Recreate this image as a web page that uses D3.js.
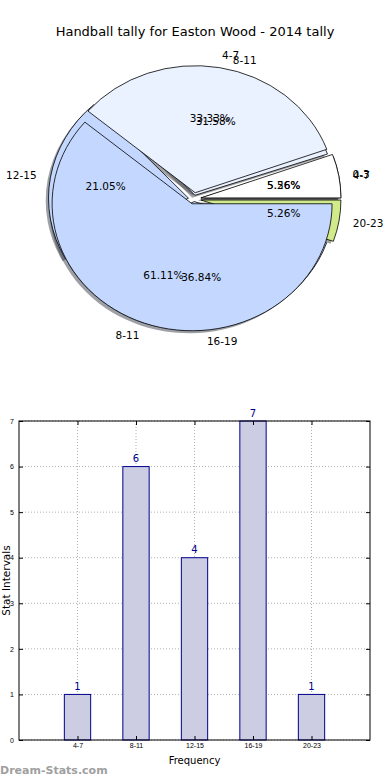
<!DOCTYPE html>
<html>
<head>
<meta charset="utf-8">
<script src="https://cdn.jsdelivr.net/npm/d3@7"></script>
<style>
  body { margin: 0; background: #fff; }
  svg { display: block; font-family: "DejaVu Sans", sans-serif; }
</style>
</head>
<body>
<div id="vis"></div>
<script>
const frame_width = 390;
const frame_height = 780;

// data
const title = "Handball tally for Easton Wood - 2014 tally";
const pieA_labels = ["0-3", "4-7", "8-11"];
const pieA_values = [1, 6, 11];
const bar_labels = ["4-7", "8-11", "12-15", "16-19", "20-23"];
const bar_values = [1, 6, 4, 7, 1];
const y_ticks = [0, 1, 2, 3, 4, 5, 6, 7];

// styling for the two overlaid pies
const pieA_colors = ["#ffffff", "#eaf1ff", "#c4d8ff"];
const pieB_colors = ["#ffffff", "#eaf1ff", "#c4d8ff", "#c4d8ff", "#d1ea8a"];
const pieA_explode = [0.05, 0.05, 0.04];
const pieB_explode = [0.05, 0.03, 0.04, 0.02, 0.05];

const FRAME = d3.select("#vis")
  .append("svg")
    .attr("width", frame_width)
    .attr("height", frame_height);

FRAME.append("text")
  .attr("x", 195)
  .attr("y", 31)
  .attr("text-anchor", "middle")
  .attr("dominant-baseline", "central")
  .attr("font-size", "13px")
  .text(title);

// ---------- pie part ----------
const pie_c = {x: 194, y: 199, rx: 140, ry: 127};

// matplotlib pie: starts at 3 o'clock, goes counter clockwise
const pieGen = d3.pie().sort(null)
  .startAngle(Math.PI / 2)
  .endAngle(Math.PI / 2 - 2 * Math.PI);
const unitArc = d3.arc().innerRadius(0).outerRadius(1);

function buildSlices(values, labels, colors, explode) {
  const total = d3.sum(values);
  return pieGen(values).map((d, i) => {
    const mid = (d.startAngle + d.endAngle) / 2;
    return {
      arc: d,
      mid: mid,
      label: labels[i],
      pct: (100 * values[i] / total).toFixed(2) + "%",
      color: colors[i],
      ox: Math.sin(mid) * explode[i] * pie_c.rx,
      oy: -Math.cos(mid) * explode[i] * pie_c.ry
    };
  });
}

const slicesB = buildSlices(bar_values, bar_labels, pieB_colors, pieB_explode);
const slicesA = buildSlices(pieA_values, pieA_labels, pieA_colors, pieA_explode);

const pieLayer = FRAME.append("g");

// shadows go under every wedge
[slicesB, slicesA].forEach(slices => {
  pieLayer.append("g").selectAll("path")
    .data(slices)
    .enter()
    .append("path")
      .attr("transform", d => "translate(" + (pie_c.x + d.ox - 0.02 * pie_c.rx) + "," +
        (pie_c.y + d.oy + 0.02 * pie_c.ry) + ") scale(" + pie_c.rx + "," + pie_c.ry + ")")
      .attr("d", d => unitArc(d.arc))
      .attr("fill", d => {
        const c = d3.rgb(d.color);
        return d3.rgb(c.r * 0.3, c.g * 0.3, c.b * 0.3);
      })
      .attr("opacity", 0.5);
});

[slicesB, slicesA].forEach(slices => {
  pieLayer.append("g").selectAll("path")
    .data(slices)
    .enter()
    .append("path")
      .attr("transform", d => "translate(" + (pie_c.x + d.ox) + "," + (pie_c.y + d.oy) +
        ") scale(" + pie_c.rx + "," + pie_c.ry + ")")
      .attr("d", d => unitArc(d.arc))
      .attr("fill", d => d.color)
      .attr("stroke", "#000")
      .attr("stroke-width", 0.8)
      .attr("vector-effect", "non-scaling-stroke");
});

[slicesB, slicesA].forEach(slices => {
  slices.forEach(d => {
    const lx = pie_c.x + d.ox + 1.1 * pie_c.rx * Math.sin(d.mid);
    const ly = pie_c.y + d.oy - 1.1 * pie_c.ry * Math.cos(d.mid);
    pieLayer.append("text")
      .attr("x", lx)
      .attr("y", ly)
      .attr("text-anchor", Math.sin(d.mid) > 0 ? "start" : "end")
      .attr("dominant-baseline", "central")
      .attr("font-size", "10.5px")
      .text(d.label);

    pieLayer.append("text")
      .attr("x", pie_c.x + d.ox + 0.6 * pie_c.rx * Math.sin(d.mid))
      .attr("y", pie_c.y + d.oy - 0.6 * pie_c.ry * Math.cos(d.mid))
      .attr("text-anchor", "middle")
      .attr("dominant-baseline", "central")
      .attr("font-size", "10.5px")
      .text(d.pct);
  });
});

// ---------- bar part ----------
const plot = {left: 19, right: 370, top: 421, bottom: 740};

const X_SCALE = d3.scaleLinear()
  .domain([0, bar_labels.length + 1])
  .range([plot.left, plot.right]);

const Y_SCALE = d3.scaleLinear()
  .domain([0, d3.max(y_ticks)])
  .range([plot.bottom, plot.top]);

const positions = bar_labels.map((d, i) => i + 1);

// dotted grid
FRAME.append("g").selectAll("line")
  .data(y_ticks)
  .enter()
  .append("line")
    .attr("x1", plot.left).attr("x2", plot.right)
    .attr("y1", d => Y_SCALE(d)).attr("y2", d => Y_SCALE(d))
    .attr("stroke", "#b0b0b0")
    .attr("stroke-dasharray", "1,2");

FRAME.append("g").selectAll("line")
  .data(positions)
  .enter()
  .append("line")
    .attr("x1", d => X_SCALE(d)).attr("x2", d => X_SCALE(d))
    .attr("y1", plot.top).attr("y2", plot.bottom)
    .attr("stroke", "#b0b0b0")
    .attr("stroke-dasharray", "1,2");

const bar_w = 0.45;
FRAME.append("g").selectAll("rect")
  .data(bar_values)
  .enter()
  .append("rect")
    .attr("x", (d, i) => X_SCALE(positions[i] - bar_w / 2))
    .attr("y", d => Y_SCALE(d))
    .attr("width", X_SCALE(bar_w) - X_SCALE(0))
    .attr("height", d => Y_SCALE(0) - Y_SCALE(d))
    .attr("fill", "#cccce3")
    .attr("stroke", "#00008b")
    .attr("stroke-width", 1);

FRAME.append("g").selectAll("text")
  .data(bar_values)
  .enter()
  .append("text")
    .attr("x", (d, i) => X_SCALE(positions[i]))
    .attr("y", d => Y_SCALE(d) - 8)
    .attr("text-anchor", "middle")
    .attr("dominant-baseline", "central")
    .attr("font-size", "10px")
    .attr("fill", "#00008b")
    .text(d => d);

// axes, ticks pointing inward on all four sides
FRAME.append("g")
  .attr("transform", "translate(0," + plot.bottom + ")")
  .call(d3.axisBottom(X_SCALE).tickValues(positions)
    .tickFormat((d, i) => bar_labels[i]).tickSize(-4).tickPadding(3))
  .attr("font-size", "7px")
  .call(g => g.select(".domain").remove());

FRAME.append("g")
  .attr("transform", "translate(0," + plot.top + ")")
  .call(d3.axisTop(X_SCALE).tickValues(positions).tickFormat("").tickSize(-4))
  .call(g => g.select(".domain").remove());

FRAME.append("g")
  .attr("transform", "translate(" + plot.left + ",0)")
  .call(d3.axisLeft(Y_SCALE).tickValues(y_ticks).tickFormat(d3.format("d"))
    .tickSize(-4).tickPadding(5))
  .attr("font-size", "7px")
  .call(g => g.select(".domain").remove());

FRAME.append("g")
  .attr("transform", "translate(" + plot.right + ",0)")
  .call(d3.axisRight(Y_SCALE).tickValues(y_ticks).tickFormat("").tickSize(-4))
  .call(g => g.select(".domain").remove());

FRAME.append("rect")
  .attr("x", plot.left).attr("y", plot.top)
  .attr("width", plot.right - plot.left)
  .attr("height", plot.bottom - plot.top)
  .attr("fill", "none")
  .attr("stroke", "#000")
  .attr("stroke-width", 1);

FRAME.append("text")
  .attr("x", (plot.left + plot.right) / 2)
  .attr("y", 760)
  .attr("text-anchor", "middle")
  .attr("dominant-baseline", "central")
  .attr("font-size", "10px")
  .text("Frequency");

FRAME.append("text")
  .attr("transform", "translate(6," + ((plot.top + plot.bottom) / 2) + ") rotate(-90)")
  .attr("text-anchor", "middle")
  .attr("dominant-baseline", "central")
  .attr("font-size", "10.5px")
  .text("Stat Intervals");

FRAME.append("text")
  .attr("x", 0)
  .attr("y", 770)
  .attr("dominant-baseline", "central")
  .attr("font-size", "11px")
  .attr("font-weight", "bold")
  .attr("fill", "#a0a0a0")
  .text("Dream-Stats.com");
</script>
</body>
</html>
